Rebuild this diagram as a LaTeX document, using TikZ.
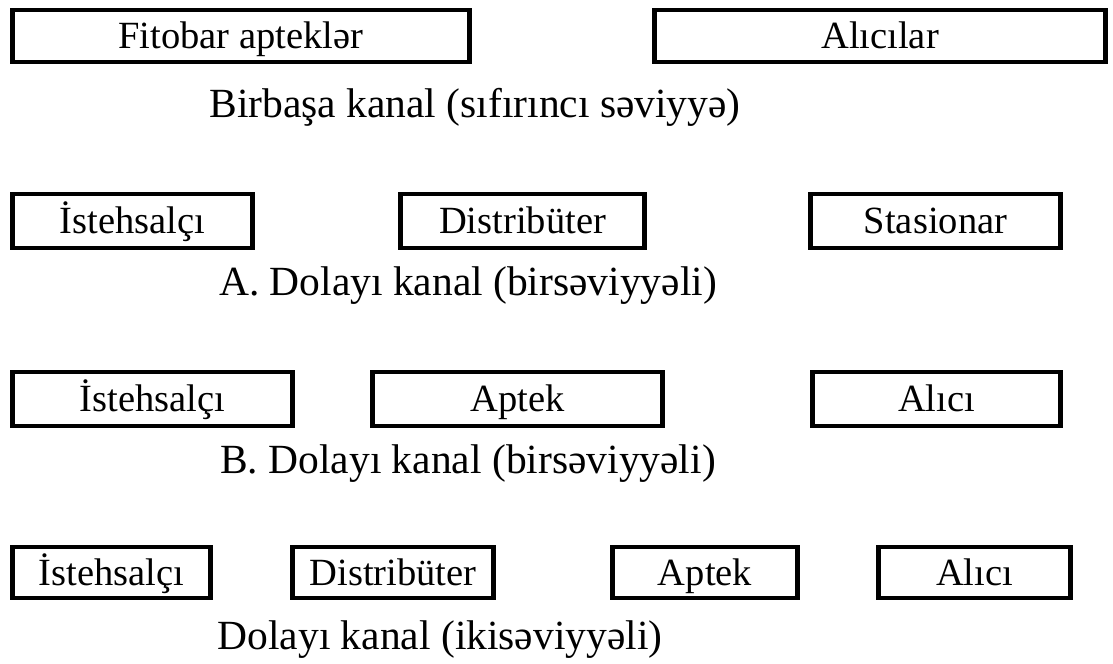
\documentclass[tikz,border=0pt]{standalone}
\usepackage{fontspec}
\setmainfont{Liberation Serif}
\begin{document}
\begin{tikzpicture}[line join=miter,
  chbox/.style={draw,rectangle,line width=4.5bp,inner sep=0pt,
    text height=33bp,text depth=7.7bp,
    font=\fontsize{38.5bp}{44bp}\selectfont},
  chlabel/.style={inner sep=0pt,text height=35.7bp,text depth=8.3bp,
    font=\fontsize{41.5bp}{48bp}\selectfont}]
\useasboundingbox (0bp,0bp) rectangle (1113bp,664bp);
%% row 1
  \node (fito) at (241bp,628bp) [chbox,minimum width=457bp,minimum height=52bp] {Fitobar apteklər};
  \node (alicilar) at (880bp,628bp) [chbox,minimum width=451bp,minimum height=52bp] {Alıcılar};
  \node (lab1) at (475bp,560bp) [chlabel] {Birbaşa kanal (sıfırıncı səviyyə)};
%% row 2
  \node (ist1) at (132.5bp,443bp) [chbox,minimum width=240bp,minimum height=54bp] {İstehsalçı};
  \node (dist1) at (522.5bp,443bp) [chbox,minimum width=244bp,minimum height=54bp] {Distribüter};
  \node (stas) at (935.5bp,443bp) [chbox,minimum width=250bp,minimum height=54bp] {Stasionar};
  \node (lab2) at (468bp,382bp) [chlabel] {A.\ Dolayı kanal (birsəviyyəli)};
%% row 3
  \node (ist2) at (152.5bp,265bp) [chbox,minimum width=280bp,minimum height=54bp] {İstehsalçı};
  \node (apt1) at (517.5bp,265bp) [chbox,minimum width=290bp,minimum height=54bp] {Aptek};
  \node (alici1) at (936.5bp,265bp) [chbox,minimum width=248bp,minimum height=54bp] {Alıcı};
  \node (lab3) at (468bp,204bp) [chlabel] {B.\ Dolayı kanal (birsəviyyəli)};
%% row 4
  \node (ist3) at (111.5bp,91.5bp) [chbox,minimum width=198bp,minimum height=51bp] {İstehsalçı};
  \node (dist2) at (393bp,91.5bp) [chbox,minimum width=201bp,minimum height=51bp] {Distribüter};
  \node (apt2) at (705bp,91.5bp) [chbox,minimum width=185bp,minimum height=51bp] {Aptek};
  \node (alici2) at (974.5bp,91.5bp) [chbox,minimum width=192bp,minimum height=51bp] {Alıcı};
  \node (lab4) at (440bp,28bp) [chlabel] {Dolayı kanal (ikisəviyyəli)};
%
\end{tikzpicture}
\end{document}
